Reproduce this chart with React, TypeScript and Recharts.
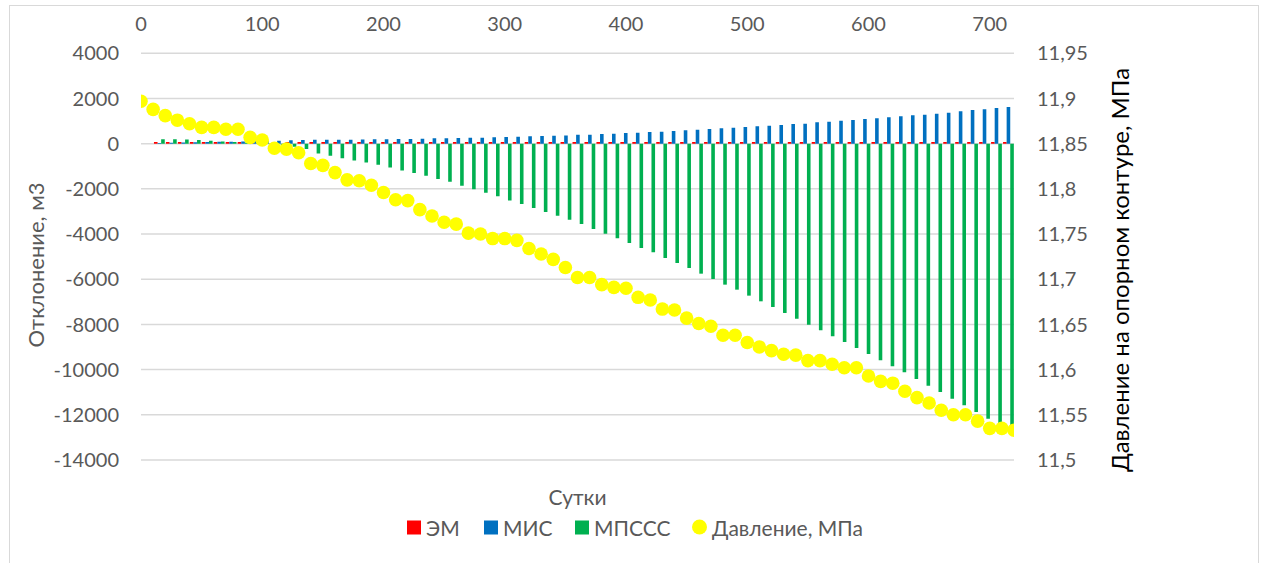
import React from 'react';
import { ComposedChart, Bar, Line, XAxis, YAxis, CartesianGrid } from 'recharts';

// Days since start (one entry every 10 days)
const days = [
  0, 10, 20, 30, 40, 50, 60, 70, 80, 90, 100, 110, 120, 130, 140, 150, 160, 170, 180, 190,
  200, 210, 220, 230, 240, 250, 260, 270, 280, 290, 300, 310, 320, 330, 340, 350, 360, 370, 380, 390,
  400, 410, 420, 430, 440, 450, 460, 470, 480, 490, 500, 510, 520, 530, 540, 550, 560, 570, 580, 590,
  600, 610, 620, 630, 640, 650, 660, 670, 680, 690, 700, 710, 720,
];

// Deviation, m3 — ЭМ
const emValues = [
  0, 70, 70, 70, 70, 70, 70, 70, 70, 70, 70, 70, 70, 70, 70, 70, 70, 70, 70, 70,
  70, 70, 70, 70, 70, 70, 70, 70, 70, 70, 70, 70, 70, 70, 70, 70, 70, 70, 70, 70,
  70, 70, 70, 70, 70, 70, 70, 70, 70, 70, 70, 70, 70, 70, 70, 70, 70, 70, 70, 70,
  70, 70, 70, 70, 70, 70, 70, 70, 70, 70, 70, 70, 70,
];

// Deviation, m3 — МИС
const misValues = [
  0, 30, 40, 50, 60, 70, 80, 90, 100, 110, 120, 135, 150, 165, 175, 175, 177, 177, 180, 192,
  192, 207, 207, 221, 236, 236, 251, 266, 266, 280, 295, 310, 325, 339, 354, 360, 398, 398, 428, 443,
  472, 487, 516, 531, 561, 590, 620, 649, 679, 708, 738, 767, 797, 826, 870, 885, 944, 974, 1018, 1047,
  1092, 1121, 1165, 1210, 1254, 1283, 1328, 1372, 1431, 1490, 1519, 1578, 1623,
];

// Deviation, m3 — МПССС
const mpsssValues = [
  0, 200, 200, 180, 160, 130, 100, 70, 50, 20, -30, -80, -140, -240, -430, -530, -640, -740, -830, -930,
  -1050, -1190, -1300, -1420, -1560, -1690, -1860, -2020, -2170, -2330, -2510, -2670, -2850, -3020, -3190, -3370, -3560, -3776, -3983, -4189,
  -4396, -4617, -4808, -5060, -5281, -5502, -5753, -5988, -6239, -6461, -6726, -6977, -7228, -7493, -7744, -8009, -8260, -8526, -8776, -9042,
  -9307, -9588, -9853, -10118, -10413, -10709, -10989, -11284, -11579, -11874, -12169, -12460, -12750,
];

// Pressure on the reference contour, MPa
const pressureValues = [
  11.897, 11.888, 11.881, 11.876, 11.872, 11.868, 11.868, 11.866, 11.866, 11.857, 11.854, 11.845, 11.844, 11.84, 11.828, 11.826, 11.818, 11.81, 11.809, 11.804,
  11.796, 11.788, 11.787, 11.777, 11.77, 11.763, 11.761, 11.751, 11.75, 11.745, 11.745, 11.743, 11.734, 11.728, 11.722, 11.713, 11.702, 11.702, 11.694, 11.691,
  11.69, 11.68, 11.677, 11.667, 11.666, 11.657, 11.651, 11.648, 11.638, 11.638, 11.63, 11.625, 11.621, 11.617, 11.616, 11.61, 11.61, 11.606, 11.602, 11.602,
  11.593, 11.587, 11.585, 11.576, 11.569, 11.563, 11.555, 11.55, 11.55, 11.543, 11.535, 11.535, 11.533,
];

const dayTicks = [0, 100, 200, 300, 400, 500, 600, 700];
const deviationTicks = [-14000, -12000, -10000, -8000, -6000, -4000, -2000, 0, 2000, 4000];
const pressureTicks = [11.5, 11.55, 11.6, 11.65, 11.7, 11.75, 11.8, 11.85, 11.9, 11.95];

const seriesNames = ['ЭМ', 'МИС', 'МПССС', 'Давление, МПа'];
const seriesColors = ['#FF0000', '#0070C0', '#00B050', '#FFFF00'];

const xTitle = 'Сутки';
const leftTitle = 'Отклонение, м3';
const rightTitle = 'Давление на опорном контуре, МПа';

const data = days.map((day, i) => ({
  day,
  em: emValues[i],
  mis: misValues[i],
  mpsss: mpsssValues[i],
  p: pressureValues[i],
}));

const FONT = 'Lato, "Open Sans", sans-serif';
const TICK_STYLE = { fill: '#595959', fontSize: 20, fontFamily: FONT };

// Left edges of the legend entries
const legendLefts = [407, 484, 575, 692];

const commaFormat = (v: number) => String(Math.round(v * 100) / 100).replace('.', ',');

export default function App() {
  return (
    <div style={{ position: 'absolute', left: 0, top: 0, width: 1267, height: 563, background: '#fff', fontFamily: FONT, overflow: 'hidden' }}>
      <div style={{ position: 'absolute', left: 9, top: 5, width: 1250, height: 570, border: '1px solid #d9d9d9', boxSizing: 'border-box' }} />
      <ComposedChart
        width={1267}
        height={563}
        data={data}
        margin={{ top: 23.3, right: 193, bottom: 103, left: 81 }}
        barGap={0}
        style={{ position: 'absolute', left: 0, top: 0 }}
      >
        <CartesianGrid xAxisId="cat" yAxisId="left" vertical={false} stroke="#d9d9d9" strokeWidth={1.5} />
        <XAxis xAxisId="cat" dataKey="day" type="category" hide />
        <XAxis
          xAxisId="top"
          dataKey="day"
          type="number"
          orientation="top"
          domain={[0, 720]}
          ticks={dayTicks}
          allowDataOverflow
          axisLine={false}
          tickLine={false}
          tickSize={0}
          tickMargin={22}
          height={30}
          tick={TICK_STYLE}
        />
        <YAxis
          yAxisId="left"
          domain={[-14000, 4000]}
          ticks={deviationTicks}
          allowDataOverflow
          axisLine={false}
          tickLine={false}
          tickSize={0}
          tickMargin={22}
          width={60}
          tick={TICK_STYLE}
        />
        <YAxis
          yAxisId="right"
          orientation="right"
          domain={[11.5, 11.95]}
          ticks={pressureTicks}
          allowDataOverflow
          axisLine={false}
          tickLine={false}
          tickSize={0}
          tickMargin={23}
          width={60}
          tick={TICK_STYLE}
          tickFormatter={commaFormat}
        />
        <Bar xAxisId="cat" yAxisId="left" dataKey="em" name={seriesNames[0]} fill={seriesColors[0]} barSize={3.6} isAnimationActive={false} />
        <Bar xAxisId="cat" yAxisId="left" dataKey="mis" name={seriesNames[1]} fill={seriesColors[1]} barSize={3.6} isAnimationActive={false} />
        <Bar xAxisId="cat" yAxisId="left" dataKey="mpsss" name={seriesNames[2]} fill={seriesColors[2]} barSize={3.6} isAnimationActive={false} />
        <Line
          xAxisId="top"
          yAxisId="right"
          dataKey="p"
          name={seriesNames[3]}
          stroke="none"
          dot={{ r: 6.8, fill: seriesColors[3], stroke: 'none' }}
          activeDot={false}
          isAnimationActive={false}
        />
      </ComposedChart>

      <div style={{ position: 'absolute', left: 35, top: 265, transform: 'translate(-50%, -50%) rotate(-90deg)', whiteSpace: 'nowrap', fontSize: 22, color: '#595959' }}>
        {leftTitle}
      </div>
      <div style={{ position: 'absolute', left: 1119, top: 270, transform: 'translate(-50%, -50%) rotate(-90deg)', whiteSpace: 'nowrap', fontSize: 24, color: '#000' }}>
        {rightTitle}
      </div>
      <div style={{ position: 'absolute', left: 577.5, top: 496, transform: 'translate(-50%, -50%)', whiteSpace: 'nowrap', fontSize: 21, color: '#595959' }}>
        {xTitle}
      </div>

      {seriesNames.map((name, i) => (
        <div
          key={name}
          style={{
            position: 'absolute',
            left: legendLefts[i],
            top: 527,
            transform: 'translateY(-50%)',
            display: 'flex',
            alignItems: 'center',
            fontSize: 21,
            color: '#595959',
            whiteSpace: 'nowrap',
          }}
        >
          <span
            style={{
              display: 'inline-block',
              width: i === 3 ? 15 : 14,
              height: i === 3 ? 15 : 14,
              borderRadius: i === 3 ? '50%' : 0,
              background: seriesColors[i],
              marginRight: i === 3 ? 5 : 5,
            }}
          />
          <span>{name}</span>
        </div>
      ))}
    </div>
  );
}
